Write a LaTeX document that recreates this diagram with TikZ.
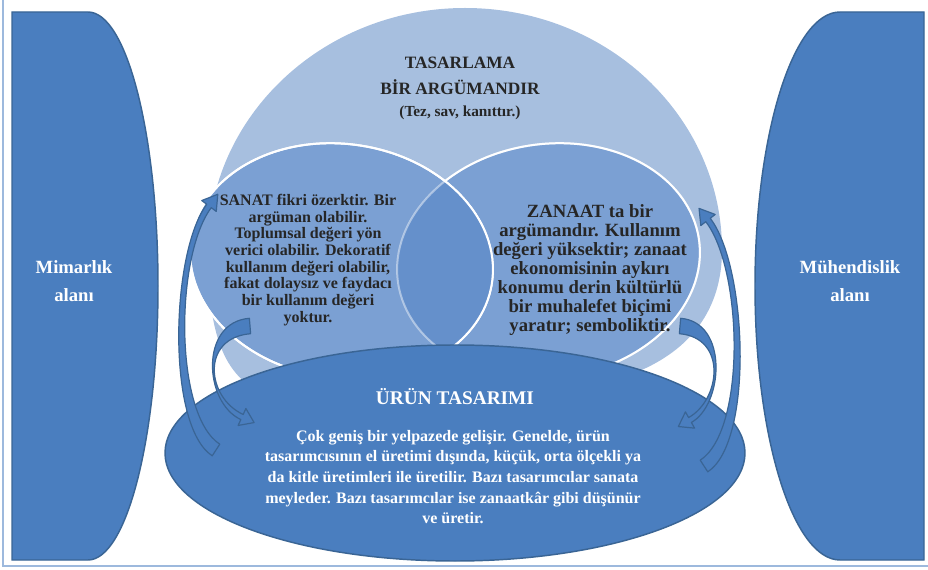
\documentclass[tikz,border=0pt]{standalone}
\usepackage{fontspec}
\setmainfont{Liberation Serif}
\usetikzlibrary{calc}

\definecolor{bigfill}{HTML}{A7BFDF}
\definecolor{vennfill}{HTML}{7BA0D3}
\definecolor{lensfill}{HTML}{6590CB}
\definecolor{fieldfill}{HTML}{4A7EBF}
\definecolor{fieldline}{HTML}{3A6595}
\definecolor{framecol}{HTML}{9DB9DD}
\definecolor{inkcol}{HTML}{262626}

% tapered curved arrow: tail, control 1, control 2, head base,
% tail half width, neck half width, head half width, head length
\newcommand\bandarrow[8]{%
  \filldraw[bandarrow]
    ($(#1)!#5!90:(#2)$)
      .. controls ($(#2)!#5!-90:(#1)$) and ($(#3)!#6!90:(#4)$) ..
    ($(#4)!#6!-90:(#3)$) -- ($(#4)!#7!-90:(#3)$) -- ($(#4)!-#8!(#3)$)
    -- ($(#4)!#7!90:(#3)$) -- ($(#4)!#6!90:(#3)$)
      .. controls ($(#3)!#6!-90:(#4)$) and ($(#2)!#5!90:(#1)$) ..
    ($(#1)!#5!-90:(#2)$) -- cycle;}

\begin{document}
\begin{tikzpicture}[
  x=0.75pt,
  y=-0.75pt,
  field/.style={draw=fieldline, line width=1.1pt, fill=fieldfill},
  venn/.style={draw=white, line width=1.5pt, fill=vennfill},
  sanatring/.style={rotate around={-8:(san)}},
  zanaatring/.style={rotate around={8:(zan)}},
  bandarrow/.style={draw=fieldline, line width=0.9pt, fill=fieldfill, line join=round},
  darktext/.style={text=inkcol, font=\bfseries, align=center, inner sep=0pt},
  lighttext/.style={text=white, font=\bfseries, align=center, inner sep=0pt}
]
  \useasboundingbox (0,0) rectangle (928,570);
  \draw[framecol, line width=0.8pt] (3,-5) -- (3,566) -- (935,566);

  \coordinate (san) at (341.5,261);
  \coordinate (zan) at (548.5,261);
  \coordinate (uru) at (455,453);

  % side fields
  \draw[field] (12,12) -- (88,12)
    arc[start angle=-90, end angle=90, x radius=70, y radius=274] -- (12,560) -- cycle;
  \draw[field] (924,12) -- (840,12)
    arc[start angle=-90, end angle=-270, x radius=85, y radius=274] -- (924,560) -- cycle;

  % venn
  \fill[bigfill] (208,250)
    arc[start angle=180, end angle=360, x radius=257, y radius=242]
    .. controls (722,310) and (690,350) .. (637,372)
    -- (455,420) -- (250,386)
    .. controls (215,362) and (208,310) .. (208,250) -- cycle;
  \draw[venn, zanaatring] (zan) ellipse [x radius=152, y radius=117];
  \draw[venn, sanatring] (san) ellipse [x radius=152, y radius=117];
  \begin{scope}
    \clip[zanaatring] (zan) ellipse [x radius=152, y radius=117];
    \fill[lensfill, sanatring] (san) ellipse [x radius=152, y radius=117];
  \end{scope}
  \draw[white, line width=1.5pt, opacity=.45, zanaatring] (zan) ellipse [x radius=152, y radius=117];
  \draw[white, line width=1.5pt, sanatring] (san) ellipse [x radius=152, y radius=117];

  \draw[field] (uru) ellipse [x radius=290, y radius=108];

  % arrows
  \coordinate (lo0) at (216,450);
  \coordinate (lo1) at (170,420);
  \coordinate (lo2) at (173,254);
  \coordinate (lo3) at (209,206);

  \coordinate (li0) at (250,326);
  \coordinate (li1) at (200,330);
  \coordinate (li2) at (205,400);
  \coordinate (li3) at (242,417);

  \coordinate (ro0) at (704,466);
  \coordinate (ro1) at (750,436);
  \coordinate (ro2) at (745,268);
  \coordinate (ro3) at (708,220);

  \coordinate (ri0) at (680,326);
  \coordinate (ri1) at (728,330);
  \coordinate (ri2) at (722,402);
  \coordinate (ri3) at (690,420);

  \bandarrow{lo0}{lo1}{lo2}{lo3}{5.2pt}{2.1pt}{6.8pt}{11pt}
  \bandarrow{li0}{li1}{li2}{li3}{5.8pt}{2.1pt}{7pt}{10pt}
  \bandarrow{ro0}{ro1}{ro2}{ro3}{5.2pt}{2.1pt}{6.8pt}{11pt}
  \bandarrow{ri0}{ri1}{ri2}{ri3}{5.8pt}{2.1pt}{7pt}{10pt}

  % texts
  \node[darktext, font=\bfseries\fontsize{13}{19.5}\selectfont] (tasarlama) at (460,88)
    {TASARLAMA\\BİR ARGÜMANDIR\\[-3pt]{\fontsize{11.5}{14}\selectfont(Tez, sav, kanıttır.)}};
  \node[darktext, font=\bfseries\fontsize{12}{12.5}\selectfont] (sanat) at (308,260)
    {SANAT fikri özerktir. Bir\\argüman olabilir.\\Toplumsal değeri yön\\verici olabilir. Dekoratif\\kullanım değeri olabilir,\\fakat dolaysız ve faydacı\\bir kullanım değeri\\yoktur.};
  \node[darktext, font=\bfseries\fontsize{14}{14.3}\selectfont] (zanaat) at (590,270)
    {ZANAAT ta bir\\argümandır. Kullanım\\değeri yüksektir; zanaat\\ekonomisinin aykırı\\konumu derin kültürlü\\bir muhalefet biçimi\\yaratır; semboliktir.};
  \node[lighttext, font=\bfseries\fontsize{14.5}{17}\selectfont] (urun) at (455,397) {ÜRÜN TASARIMI};
  \node[lighttext, font=\bfseries\fontsize{12}{15.5}\selectfont] (urunmetin) at (453,477)
    {Çok geniş bir yelpazede gelişir. Genelde, ürün\\tasarımcısının el üretimi dışında, küçük, orta ölçekli ya\\da kitle üretimleri ile üretilir. Bazı tasarımcılar sanata\\meyleder. Bazı tasarımcılar ise zanaatkâr gibi düşünür\\ve üretir.};
  \node[lighttext, font=\bfseries\fontsize{14}{21}\selectfont] (mimarlik) at (74,281) {Mimarlık\\alanı};
  \node[lighttext, font=\bfseries\fontsize{14}{21}\selectfont] (muhendislik) at (850,281) {Mühendislik\\alanı};
\end{tikzpicture}
\end{document}
